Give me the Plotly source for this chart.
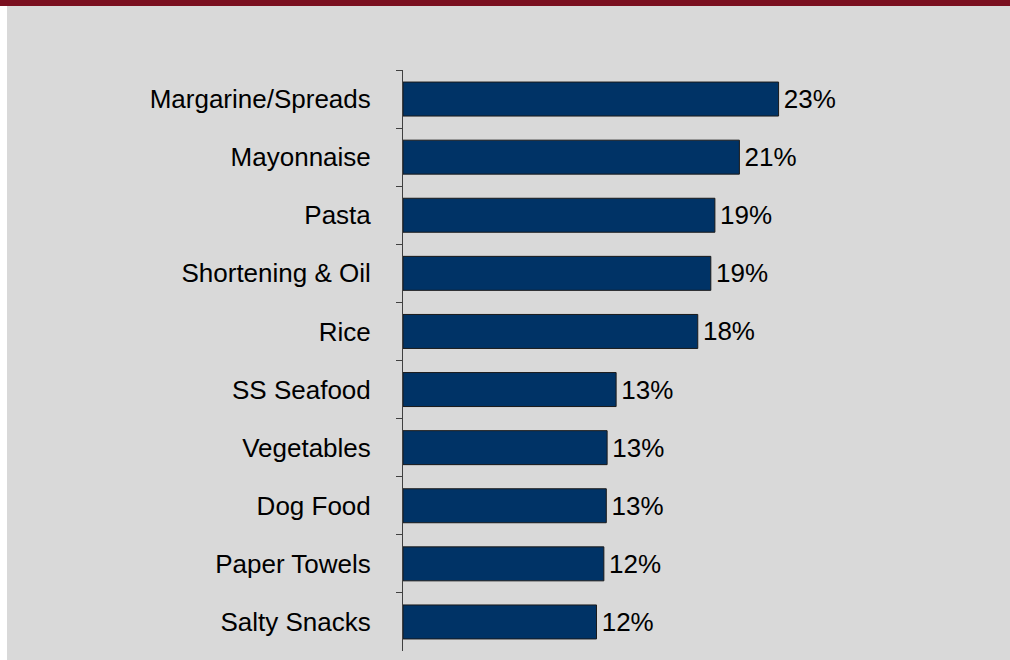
import plotly.graph_objects as go

categories = ["Margarine/Spreads", "Mayonnaise", "Pasta", "Shortening & Oil", "Rice",
              "SS Seafood", "Vegetables", "Dog Food", "Paper Towels", "Salty Snacks"]
values = [23.0, 20.6, 19.1, 18.85, 18.05, 13.05, 12.5, 12.45, 12.3, 11.85]
labels = ["23%", "21%", "19%", "19%", "18%", "13%", "13%", "13%", "12%", "12%"]

W, H = 1010, 660
ML, MR, MT, MB = 403, 10, 70, 9
PW = W - ML - MR
PH = H - MT - MB
px_per_unit = 16.33
xmax = PW / px_per_unit

def pxx(p):
    return (p - ML) / PW

def pxy(p):
    return (H - MB - p) / PH

fig = go.Figure(go.Bar(
    y=categories, x=values, orientation="h",
    text=labels, textposition="outside", cliponaxis=False,
    texttemplate="\u200a%{text}",
    textfont=dict(size=26, color="#000000", family="Liberation Sans, Arial"),
    marker=dict(color="#003366", line=dict(color="#1a1a1a", width=1)),
))

fig.update_layout(
    width=W, height=H,
    margin=dict(l=ML, r=MR, t=MT, b=MB, pad=0),
    paper_bgcolor="#d9d9d9", plot_bgcolor="#d9d9d9",
    bargap=0.415, showlegend=False,
    font=dict(family="Liberation Sans, Arial", size=26, color="#000000"),
    xaxis=dict(range=[0, xmax], visible=False, fixedrange=True),
    yaxis=dict(autorange="reversed", type="category", showline=True,
               linecolor="#404040", linewidth=1, ticks="outside", ticklen=6,
               tickcolor="#404040", tickson="boundaries", ticklabelstandoff=26,
               showgrid=False, zeroline=False,
               tickfont=dict(size=26, color="#000000")),
    shapes=[
        dict(type="rect", xref="paper", yref="paper", x0=pxx(0), x1=pxx(7),
             y0=pxy(H), y1=pxy(0), fillcolor="#ffffff", line=dict(width=0), layer="below"),
        dict(type="rect", xref="paper", yref="paper", x0=pxx(0), x1=pxx(W),
             y0=pxy(6), y1=pxy(0), fillcolor="#7a1020", line=dict(width=0), layer="above"),
    ],
)

fig.write_html("out.html", config={"displayModeBar": False},
               post_script="document.body.style.margin='0';document.body.style.overflow='hidden';")
